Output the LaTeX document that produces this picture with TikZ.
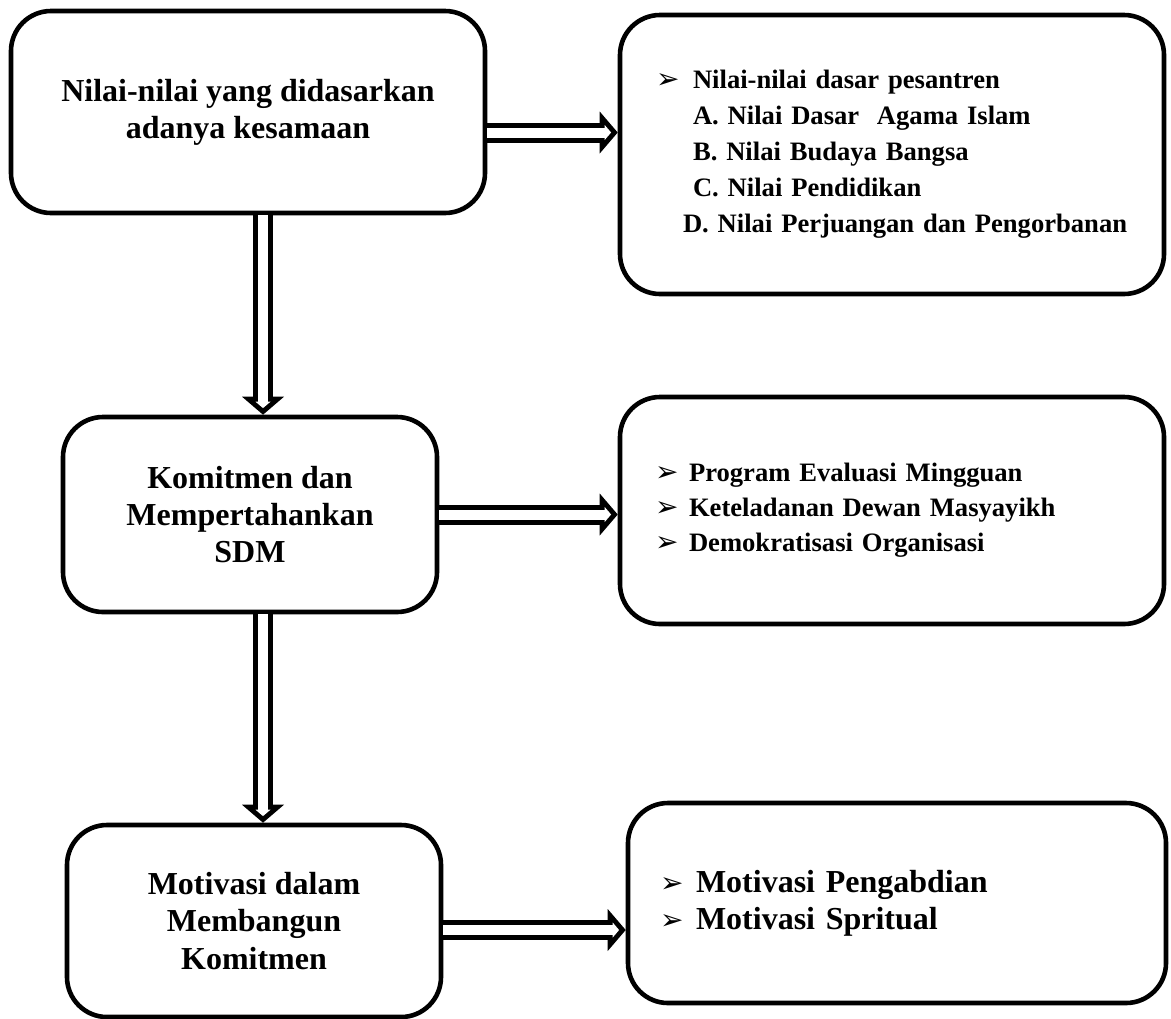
\documentclass[tikz,border=0pt]{standalone}
\usepackage{fontspec}
\setmainfont{Liberation Serif}
\newfontfamily\bulletfont{DejaVu Sans}
\usetikzlibrary{arrows.meta}
\newcommand{\bul}{\makebox[0pt][l]{\bulletfont\fontsize{14pt}{14pt}\selectfont ➢}}

\begin{document}
\begin{tikzpicture}[x=0.5pt, y=-0.5pt, line join = round,
    box/.style={draw, fill=white, line width=2.3pt, rounded corners=20pt, inner sep=0pt},
    bigtext/.style={font=\bfseries\fontsize{16pt}{18.6pt}\selectfont, align=center},
    listtext/.style={font=\bfseries\fontsize{13.3pt}{18pt}\selectfont, align=left},
    blk/.style={line width=10pt, line cap=butt, -{Triangle[length=9pt, width=21pt, line width=0pt]}},
    wht/.style={white, line width=5pt, line cap=butt, shorten >=3.3pt, -{Triangle[length=3.2pt, width=7.5pt, line width=0pt]}}]
                \useasboundingbox (0,0) rectangle (1171,1018);
                % left column
                \coordinate (c1) at (248,112);
                \coordinate (c3) at (250,514.5);
                \coordinate (c5) at (254,921);
                % right column
                \coordinate (c2) at (892,154.5);
                \coordinate (c4) at (892,510.5);
                \coordinate (c6) at (897,903);

                % 1st row
                \node[box, bigtext, minimum width=237pt, minimum height=101pt] (nilai) at (c1)
                  {Nilai-nilai yang didasarkan\\adanya kesamaan};
                \node[box, listtext, minimum width=272pt, minimum height=139.5pt, inner xsep=18pt, text width=236pt] (dasar) at (c2)
                  {\bul\hspace*{18.5pt}Nilai-nilai dasar pesantren\\
                   \hspace*{18.5pt}A. Nilai Dasar\ \ Agama Islam\\
                   \hspace*{18.5pt}B. Nilai Budaya Bangsa\\
                   \hspace*{18.5pt}C. Nilai Pendidikan\\
                   \hspace*{13.5pt}D. Nilai Perjuangan dan Pengorbanan};
                % 2nd row
                \node[box, bigtext, minimum width=187pt, minimum height=97.5pt] (komit) at (c3)
                  {Komitmen dan\\Mempertahankan\\SDM};
                \node[box, listtext, font=\bfseries\fontsize{13.3pt}{17.5pt}\selectfont, minimum width=272pt, minimum height=113.5pt, inner xsep=17.5pt, text width=237pt] (program) at (c4)
                  {\bul\hspace*{17pt}Program Evaluasi Mingguan\\
                   \bul\hspace*{17pt}Keteladanan Dewan Masyayikh\\
                   \bul\hspace*{17pt}Demokratisasi Organisasi};
                % 3rd row
                \node[box, bigtext, minimum width=187pt, minimum height=96pt] (motiv) at (c5)
                  {Motivasi dalam\\Membangun\\Komitmen};
                \node[box, bigtext, align=left, minimum width=269pt, minimum height=100pt, inner xsep=16pt, text width=237pt] (abdi) at (c6)
                  {\bul\hspace*{18pt}Motivasi Pengabdian\\
                   \bul\hspace*{18pt}Motivasi Spritual};

                % arrow 1st to 2nd
                \coordinate (a1) at ([yshift=-10.25pt]nilai.east);
                \coordinate (a2) at (a1 -| dasar.west);
                % arrow 2nd to 3rd
                \coordinate (a3) at (komit.east);
                \coordinate (a4) at (a3 -| program.west);
                % arrow 3rd to 4th
                \coordinate (a5) at ([yshift=-4.5pt]motiv.east);
                \coordinate (a6) at (a5 -| abdi.west);
                % down arrows
                \coordinate (b1) at ([xshift=7.5pt]nilai.south);
                \coordinate (b2) at (b1 |- komit.north);
                \coordinate (b3) at ([xshift=6.5pt]komit.south);
                \coordinate (b4) at (b3 |- motiv.north);

                % hollow arrows
                \draw[blk] (a1) -- (a2);
                \draw[wht] (a1) -- (a2);
                \draw[blk] (a3) -- (a4);
                \draw[wht] (a3) -- (a4);
                \draw[blk] (a5) -- (a6);
                \draw[wht] (a5) -- (a6);
                \draw[blk] (b1) -- (b2);
                \draw[wht] (b1) -- (b2);
                \draw[blk] (b3) -- (b4);
                \draw[wht] (b3) -- (b4);
\end{tikzpicture}
\end{document}
